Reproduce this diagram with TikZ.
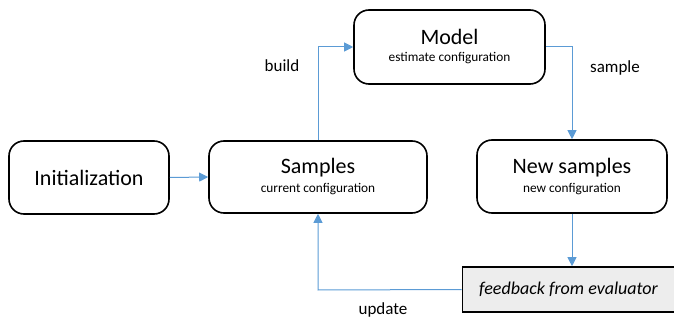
\documentclass[tikz,border=0pt]{standalone}
\usepackage{fontspec}
\setmainfont{Carlito}
\usetikzlibrary{arrows.meta}
\definecolor{arrowblue}{HTML}{5B9BD5}
\definecolor{fbgray}{HTML}{EDEDED}
\tikzset{
  rbox/.style={draw=black, line width=1.6pt, rounded corners=15pt, align=center, inner sep=0pt},
  flow/.style={draw=arrowblue, line width=1pt, -{Triangle[length=9pt,width=9pt]}},
  lbl/.style={font=\fontsize{17}{19}\selectfont, inner sep=0pt},
}
\newcommand{\ttl}[1]{{\fontsize{22}{24}\selectfont #1}}
\newcommand{\sbt}[1]{{\fontsize{13.3}{15}\selectfont #1}}
\begin{document}
\begin{tikzpicture}[x=1pt,y=-1pt]
\useasboundingbox (0,0) rectangle (674,320);
\node[rbox, minimum width=160pt, minimum height=73pt, font=\fontsize{22}{24}\selectfont] (init) at (89,177.5) {Initialization};
\node[rbox, minimum width=218pt, minimum height=72pt, text depth=3pt] (samp) at (318,177) {\ttl{Samples}\\[5pt]\sbt{current configuration}};
\node[rbox, minimum width=191pt, minimum height=74pt, text depth=3pt] (model) at (449.5,47) {\ttl{Model}\\[5pt]\sbt{estimate configuration}};
\node[rbox, minimum width=190pt, minimum height=73pt, text depth=3pt] (news) at (572,176.5) {\ttl{New samples}\\[5pt]\sbt{new configuration}};
\node[draw=black, line width=1.6pt, fill=fbgray, minimum width=212pt, minimum height=45pt, inner sep=0pt, font=\fontsize{18}{20}\selectfont\itshape] (fb) at (568.5,289.5) {feedback from evaluator};
\coordinate (c1) at (318,47);
\coordinate (c2) at (572,47);
\coordinate (c3) at (318,290);
\draw[flow] (init.east) -- (samp.west);
\draw[flow] (samp.north) -- (c1) -- (model.west);
\draw[flow] (model.east) -- (c2) -- (news.north);
\draw[flow] (news.south) -- (fb.north -| news.south);
\draw[flow] (fb.west) -- (c3) -- (samp.south);
\node[lbl] (lbuild) at (282,66) {build};
\node[lbl] (lsample) at (615,68) {sample};
\node[lbl] (lupdate) at (383,310) {update};
\end{tikzpicture}
\end{document}
